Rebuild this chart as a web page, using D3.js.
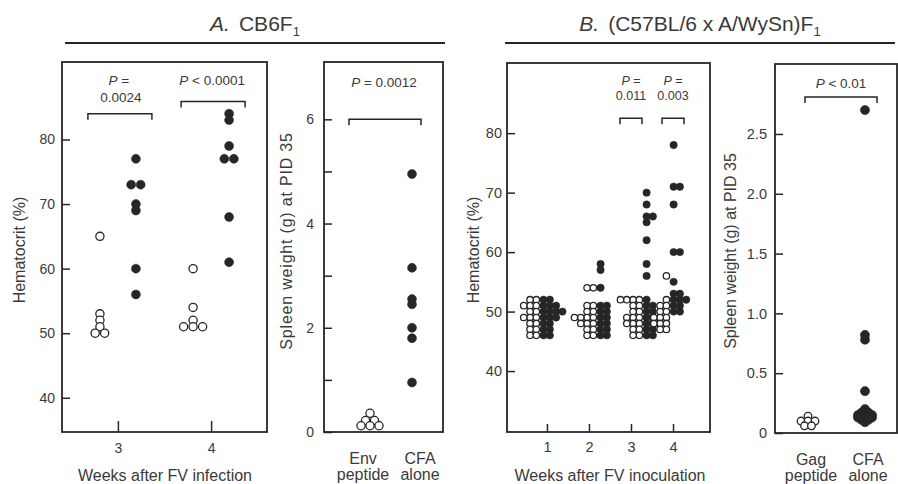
<!DOCTYPE html>
<html>
<head>
<meta charset="utf-8">
<script src="https://cdn.jsdelivr.net/npm/d3@7"></script>
<style>
body { margin: 0; background: #fff; }
text { font-family: 'Liberation Sans', Arial, sans-serif; fill: #3a3a3a; white-space: pre; }
</style>
</head>
<body>
<svg id="chart" width="898" height="484"></svg>
<script>
// ---- panel A: CB6F1 ----
let weeksA = [3, 4];
let hctTicksA = [40, 50, 60, 70, 80];
let hctA_open = [
    [65, 53, 52, 51, 50, 50],
    [60, 54, 52, 51, 51, 51]
];
let hctA_filled = [
    [77, 73, 73, 70, 69, 60, 56],
    [84, 83, 79, 77, 77, 68, 61]
];
let pvalA = [
    { week: 3, head: ' =', sub: '0.0024', level: 84 },
    { week: 4, head: ' < 0.0001', sub: '', level: 85.9 }
];

let spleenCatsA = ['Env peptide', 'CFA alone'];
let spleenA_env = [0.36, 0.22, 0.22, 0.12, 0.12, 0.12];
let spleenA_cfa = [4.95, 3.15, 2.55, 2.45, 2.0, 1.8, 0.95];
let spleenTicksA = [0, 1, 2, 3, 4, 5, 6];
let spleenLabelsA = [0, 2, 4, 6];
let pvalSpleenA = { head: ' = 0.0012', level: 6 };

// ---- panel B: (C57BL/6 x A/WySn)F1 ----
let weeksB = [1, 2, 3, 4];
let hctTicksB = [40, 50, 60, 70, 80];
let hctB_open = [
    [52, 52, 51, 51, 51, 50, 50, 49, 49, 49, 48, 48, 47, 47, 46, 46],
    [54, 54, 51, 51, 50, 50, 49, 49, 49, 49, 48, 48, 48, 47, 47, 46, 46],
    [52, 52, 52, 52, 51, 51, 50, 50, 49, 49, 49, 48, 48, 48, 47, 47, 46, 46],
    [56, 52, 51, 51, 50, 50, 49, 49, 49, 48, 48, 48, 47, 47]
];
let hctB_filled = [
    [52, 52, 51, 51, 51, 50, 50, 50, 50, 49, 49, 49, 48, 48, 47, 47, 46, 46],
    [58, 57, 54, 51, 51, 50, 50, 49, 49, 48, 48, 47, 47, 46, 46],
    [70, 68, 66, 66, 65, 62, 58, 56, 52, 51, 51, 50, 50, 49, 49, 48, 48, 48, 47, 47, 46, 46],
    [78, 71, 71, 68, 60, 60, 55, 53, 53, 52, 52, 52, 51, 51, 50, 50]
];
let pvalB = [
    { week: 3, head: ' =', sub: '0.011', level: 82.5 },
    { week: 4, head: ' =', sub: '0.003', level: 82.5 }
];

let spleenCatsB = ['Gag peptide', 'CFA alone'];
let spleenB_gag = [0.14, 0.1, 0.1, 0.1, 0.06, 0.06];
let spleenB_cfa = [2.7, 0.82, 0.78, 0.35, 0.2, 0.17, 0.17, 0.15, 0.15, 0.15, 0.13, 0.13, 0.13, 0.11, 0.11, 0.09];
let spleenTicksB = [0, 0.5, 1, 1.5, 2, 2.5];
let pvalSpleenB = { head: ' < 0.01', level: 2.81 };

let svg = d3.select('#chart');
let ink = '#262626';

function drawFrame (g, x0, x1, y0, y1) {
    g.append('rect')
        .attr('x', x0).attr('y', y0)
        .attr('width', x1 - x0).attr('height', y1 - y0)
        .attr('fill', 'none')
        .attr('stroke', ink)
        .attr('stroke-width', 1.8);
}

function styleAxis (g, size) {
    g.select('.domain').remove();
    g.selectAll('line').attr('stroke', ink).attr('stroke-width', 1.5);
    g.selectAll('text').attr('font-size', size);
}

// spread tied values sideways, overlapping ones stay in a column
function layoutRows (values, y, cx, step, mode) {
    let pts = values.map((v) => { return { v: v, py: y(v) }; });
    let rows = [];
    pts.forEach((p) => {
        let row = rows.find((r) => { return Math.abs(r.py - p.py) < 1; });
        if (row) row.items.push(p);
        else rows.push({ py: p.py, items: [p] });
    });
    rows.forEach((r) => {
        let n = r.items.length;
        r.items.forEach((p, k) => {
            if (mode === 'center') p.px = cx + (k - (n - 1) / 2) * step;
            else if (mode === 'left') p.px = cx - k * step;
            else p.px = cx + k * step;
        });
    });
    return pts;
}

function drawDots (g, pts, r, filled) {
    g.selectAll(null)
        .data(pts)
        .enter()
        .append('circle')
        .attr('cx', (d) => { return d.px; })
        .attr('cy', (d) => { return d.py; })
        .attr('r', r)
        .attr('fill', filled ? ink : '#fff')
        .attr('stroke', ink)
        .attr('stroke-width', filled ? 0.5 : 1.3);
}

function drawBracket (g, xa, xb, yb, drop) {
    g.append('path')
        .attr('d', 'M' + xa + ',' + (yb + drop) + 'V' + yb + 'H' + xb + 'V' + (yb + drop))
        .attr('fill', 'none')
        .attr('stroke', ink)
        .attr('stroke-width', 1.5);
}

function drawP (g, x, y, head, size) {
    let t = g.append('text')
        .attr('x', x).attr('y', y)
        .attr('text-anchor', 'middle')
        .attr('font-size', size);
    t.append('tspan').attr('font-style', 'italic').text('P');
    t.append('tspan').text(head);
}

function drawYLabel (g, x, y, label, size, spacing) {
    g.append('text')
        .attr('transform', 'translate(' + x + ',' + y + ') rotate(-90)')
        .attr('text-anchor', 'middle')
        .attr('font-size', size)
        .attr('letter-spacing', spacing)
        .text(label);
}

// two-line category label kept in one text element
function drawCatLabels (g, x, cats, y1, y2) {
    cats.forEach((c, i) => {
        let words = c.split(' ');
        let t = g.append('text').attr('x', x[i]).attr('y', y1)
            .attr('text-anchor', 'middle').attr('font-size', 16);
        t.append('tspan').attr('x', x[i]).text(words[0]);
        t.append('tspan').attr('x', x[i]).attr('dy', y2 - y1).text(words[1]);
    });
}

function drawTitle (cx, letter, main, sub, x0, x1) {
    let t = svg.append('text')
        .attr('x', cx).attr('y', 31)
        .attr('text-anchor', 'middle')
        .attr('font-size', 21);
    t.append('tspan').attr('font-style', 'italic').text(letter);
    t.append('tspan').attr('dx', 9).text(main);
    t.append('tspan').attr('font-size', 13).attr('dy', 5).text(sub);
    svg.append('line')
        .attr('x1', x0).attr('x2', x1)
        .attr('y1', 43).attr('y2', 43)
        .attr('stroke', ink)
        .attr('stroke-width', 2.2);
}

function drawHctA () {
    let g = svg.append('g');
    let x = d3.scaleLinear().domain([2.4, 4.6]).range([62, 267]);
    let y = d3.scaleLinear().domain([34.7, 92]).range([432, 62]);

    g.append('g').attr('transform', 'translate(62,0)')
        .call(d3.axisLeft(y).tickValues(hctTicksA).tickSizeInner(-8).tickSizeOuter(0).tickPadding(7))
        .call((a) => styleAxis(a, 14));
    g.append('g').attr('transform', 'translate(0,432)')
        .call(d3.axisBottom(x).tickValues(weeksA).tickFormat(d3.format('d'))
            .tickSizeInner(-11).tickSizeOuter(0).tickPadding(11))
        .call((a) => styleAxis(a, 14));

    weeksA.forEach((w, i) => {
        drawDots(g, layoutRows(hctA_open[i], y, x(w) - 18, 9.5, 'center'), 4.1, false);
        drawDots(g, layoutRows(hctA_filled[i], y, x(w) + 18, 9.5, 'center'), 4.5, true);
    });

    pvalA.forEach((p) => {
        drawBracket(g, x(p.week) - 30, x(p.week) + 34, y(p.level), 6);
        drawP(g, x(p.week) + 1, 85, p.head, 13.5);
        if (p.sub) g.append('text').attr('x', x(p.week) + 3).attr('y', 102)
            .attr('text-anchor', 'middle').attr('font-size', 13.5).text(p.sub);
    });

    drawFrame(g, 62, 267, 62, 432);
    drawYLabel(g, 25, 250, 'Hematocrit (%)', 16, 0);
    g.append('text').attr('x', 165).attr('y', 481)
        .attr('text-anchor', 'middle').attr('font-size', 16).text('Weeks after FV infection');
}

function drawSpleenA () {
    let g = svg.append('g');
    let x = d3.scalePoint().domain(spleenCatsA).range([370, 412]);
    let y = d3.scaleLinear().domain([0, 7.1]).range([432, 62]);

    g.append('g').attr('transform', 'translate(324,0)')
        .call(d3.axisLeft(y).tickValues(spleenTicksA).tickSizeInner(-8).tickSizeOuter(0).tickPadding(10)
            .tickFormat((d) => { return spleenLabelsA.includes(d) ? d : ''; }))
        .call((a) => styleAxis(a, 14));

    drawDots(g, layoutRows(spleenA_env, y, x(spleenCatsA[0]), 9, 'center'), 4.1, false);
    drawDots(g, layoutRows(spleenA_cfa, y, x(spleenCatsA[1]), 9, 'center'), 4.5, true);

    drawBracket(g, x(spleenCatsA[0]) - 21, x(spleenCatsA[1]) + 9, y(pvalSpleenA.level), 6);
    drawP(g, 384, 87, pvalSpleenA.head, 13.5);

    drawFrame(g, 324, 443, 62, 432);
    drawYLabel(g, 292, 241, 'Spleen weight (g) at PID 35', 16, 0.8);
    drawCatLabels(g, [363, 420], spleenCatsA, 464, 480);
}

function drawHctB () {
    let g = svg.append('g');
    let x = d3.scaleLinear().domain([0.05, 4.88]).range([507, 710]);
    let y = d3.scaleLinear().domain([29.75, 91.8]).range([432, 63]);
    let nudge = [-7, 8, 12, -3];

    g.append('g').attr('transform', 'translate(507,0)')
        .call(d3.axisLeft(y).tickValues(hctTicksB).tickSizeInner(-8).tickSizeOuter(0).tickPadding(5))
        .call((a) => styleAxis(a, 14.5));
    g.append('g').attr('transform', 'translate(0,432)')
        .call(d3.axisBottom(x).tickValues(weeksB).tickFormat(d3.format('d'))
            .tickSizeInner(-8).tickSizeOuter(0).tickPadding(10))
        .call((a) => styleAxis(a, 14.5));

    weeksB.forEach((w, i) => {
        let b = x(w) + nudge[i];
        drawDots(g, layoutRows(hctB_open[i], y, b - 3.6, 6.3, 'left'), 3.2, false);
        drawDots(g, layoutRows(hctB_filled[i], y, b + 3.6, 6.3, 'right'), 3.7, true);
    });

    pvalB.forEach((p) => {
        drawBracket(g, x(p.week) - 11, x(p.week) + 11, y(p.level), 6);
        drawP(g, x(p.week), 85, p.head, 12.5);
        g.append('text').attr('x', x(p.week)).attr('y', 100)
            .attr('text-anchor', 'middle').attr('font-size', 12.5).text(p.sub);
    });

    drawFrame(g, 507, 710, 63, 432);
    drawYLabel(g, 479, 250, 'Hematocrit (%)', 16, 0);
    g.append('text').attr('x', 610).attr('y', 481)
        .attr('text-anchor', 'middle').attr('font-size', 16).text('Weeks after FV inoculation');
}

function drawSpleenB () {
    let g = svg.append('g');
    let x = d3.scalePoint().domain(spleenCatsB).range([808, 865]);
    let y = d3.scaleLinear().domain([0, 3.085]).range([433, 64]);

    g.append('g').attr('transform', 'translate(775,0)')
        .call(d3.axisLeft(y).tickValues(spleenTicksB).tickSizeInner(-8).tickSizeOuter(0).tickPadding(8)
            .tickFormat((d) => { return d === 0 ? '0' : d3.format('.1f')(d); }))
        .call((a) => styleAxis(a, 14.5));

    drawDots(g, layoutRows(spleenB_gag, y, x(spleenCatsB[0]), 7, 'center'), 3.8, false);
    drawDots(g, layoutRows(spleenB_cfa, y, x(spleenCatsB[1]), 7, 'center'), 4.6, true);

    drawBracket(g, x(spleenCatsB[0]) - 3, x(spleenCatsB[1]) + 12, y(pvalSpleenB.level), 6);
    drawP(g, 841, 88, pvalSpleenB.head, 13.5);

    drawFrame(g, 775, 897, 64, 433);
    drawYLabel(g, 736, 251, 'Spleen weight (g) at PID 35', 16, 0);
    drawCatLabels(g, [811, 868], spleenCatsB, 465, 481);
}

drawTitle(255, 'A.', 'CB6F', '1', 65, 445);
drawTitle(700, 'B.', '(C57BL/6 x A/WySn)F', '1', 505, 895);
drawHctA();
drawSpleenA();
drawHctB();
drawSpleenB();
</script>
</body>
</html>
